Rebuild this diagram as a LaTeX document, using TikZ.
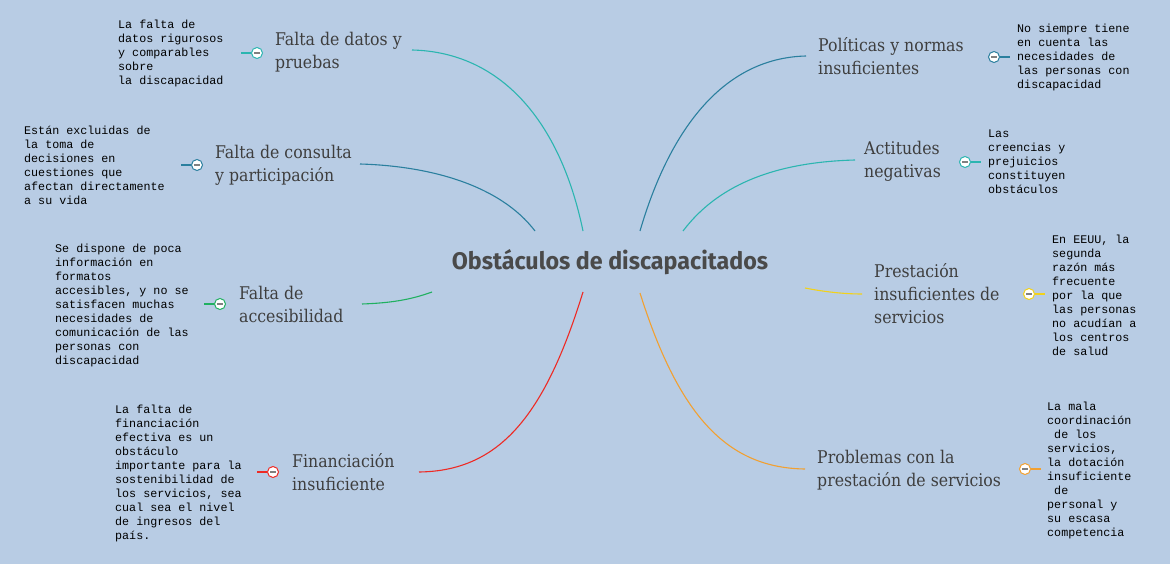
\documentclass[tikz,border=0pt]{standalone}
\usepackage{fontspec}
\newfontfamily\topicfont{DejaVu Serif Condensed}
\newfontfamily\titlefont{Fira Sans}[FakeStretch=0.97]
\newfontfamily\notefont{Liberation Mono}
\definecolor{bgblue}{HTML}{B8CCE4}
\definecolor{topicgray}{HTML}{3E3E3E}
\definecolor{titlegray}{HTML}{4A4A4A}
\definecolor{tealc}{HTML}{2BB5B0}
\definecolor{bluec}{HTML}{2A7F9E}
\definecolor{greenc}{HTML}{20B060}
\definecolor{redc}{HTML}{EE2A24}
\definecolor{yellowc}{HTML}{F2D21A}
\definecolor{orangec}{HTML}{F2A030}

\begin{document}
\begin{tikzpicture}[x=1pt,y=-1pt,
    topic/.style={anchor=west, align=left, inner sep=0pt, text=topicgray,
      font=\topicfont\fontsize{17.5}{23}\selectfont},
    note/.style={anchor=west, align=left, inner sep=0pt, text=black,
      font=\notefont\fontsize{11.7}{14}\selectfont},
    knob/.style={circle, draw=#1, fill=white, line width=1pt, minimum size=11pt, inner sep=0pt,
      path picture={\draw[gray, line width=1.2pt]
        ([xshift=-2.6pt]path picture bounding box.center) -- ([xshift=2.6pt]path picture bounding box.center);}},
    branch/.style={draw=#1, line width=1.1pt}]
  % background and frame
  \fill[bgblue] (0,0) rectangle (1170,564);
  \useasboundingbox (0,0) rectangle (1170,564);

  \node[text=titlegray, font=\titlefont\bfseries\fontsize{24}{28}\selectfont] (title) at (610,262) {Obstáculos de discapacitados};

  % start points round the title
  \coordinate (t1) at (583,231);
  \coordinate (t2) at (535,231);
  \coordinate (t3) at (432,292);
  \coordinate (t4) at (583,292);
  \coordinate (t5) at (640,231);
  \coordinate (t6) at (683,231);
  \coordinate (t7) at (805,288);
  \coordinate (t8) at (640,293);

  % left side
  \node[topic] (datos) at (275,52) {Falta de datos y\\pruebas};
  \node[topic] (consulta) at (215,165) {Falta de consulta\\y participación};
  \node[topic] (acceso) at (239,304) {Falta de\\accesibilidad};
  \node[topic] (finan) at (292,472) {Financiación\\insuficiente};
  % right side
  \node[topic] (politicas) at (818,56) {Políticas y normas\\insuficientes};
  \node[topic] (actitudes) at (864,161) {Actitudes\\negativas};
  \node[topic] (prestacion) at (874,294) {Prestación\\insuficientes de\\servicios};
  \node[topic] (problemas) at (817,470) {Problemas con la\\prestación de servicios};

  \coordinate (e1) at (412,50);
  \coordinate (e2) at (360,164);
  \coordinate (e3) at (362,304);
  \coordinate (e4) at (419,472);
  \coordinate (e5) at (806,56);
  \coordinate (e6) at (855,160);
  \coordinate (e7) at (862,294);
  \coordinate (e8) at (805,469);

  \draw[branch=tealc] (t1) .. controls (560,120) and (500,52) .. (e1);
  \draw[branch=bluec] (t2) .. controls (500,185) and (430,166) .. (e2);
  \draw[branch=greenc] (t3) .. controls (410,300) and (390,303) .. (e3);
  \draw[branch=redc] (t4) .. controls (545,415) and (500,471) .. (e4);
  \draw[branch=bluec] (t5) .. controls (668,135) and (720,58) .. (e5);
  \draw[branch=tealc] (t6) .. controls (720,182) and (780,162) .. (e6);
  \draw[branch=yellowc] (t7) .. controls (825,292) and (845,294) .. (e7);
  \draw[branch=orangec] (t8) .. controls (680,420) and (730,468) .. (e8);

  % collapse knobs
  \node[knob=tealc] (k1) at (257,53) {};
  \node[knob=bluec] (k2) at (197,165) {};
  \node[knob=greenc] (k3) at (220,304) {};
  \node[knob=redc] (k4) at (273,472) {};
  \node[knob=bluec] (k5) at (994,57) {};
  \node[knob=tealc] (k6) at (965,162) {};
  \node[knob=yellowc] (k7) at (1029,294) {};
  \node[knob=orangec] (k8) at (1025,469) {};
  \draw[branch=tealc] (k1.west) -- ++(-10,0);
  \draw[branch=bluec] (k2.west) -- ++(-10,0);
  \draw[branch=greenc] (k3.west) -- ++(-10,0);
  \draw[branch=redc] (k4.west) -- ++(-10,0);
  \draw[branch=bluec] (k5.east) -- ++(10,0);
  \draw[branch=tealc] (k6.east) -- ++(10,0);
  \draw[branch=yellowc] (k7.east) -- ++(10,0);
  \draw[branch=orangec] (k8.east) -- ++(10,0);

  % notes
  \node[note] (n1) at (118,53) {La falta de\\datos rigurosos\\y comparables\\sobre\\la discapacidad};
  \node[note] (n2) at (24,165) {Están excluidas de\\la toma de\\decisiones en\\cuestiones que\\afectan directamente\\a su vida};
  \node[note] (n3) at (55,305) {Se dispone de poca\\información en\\formatos\\accesibles, y no se\\satisfacen muchas\\necesidades de\\comunicación de las\\personas con\\discapacidad};
  \node[note] (n4) at (115,473) {La falta de\\financiación\\efectiva es un\\obstáculo\\importante para la\\sostenibilidad de\\los servicios, sea\\cual sea el nivel\\de ingresos del\\país.};
  \node[note] (n5) at (1017,57) {No siempre tiene\\en cuenta las\\necesidades de\\las personas con\\discapacidad};
  \node[note] (n6) at (988,162) {Las\\creencias y\\prejuicios\\constituyen\\obstáculos};
  \node[note] (n7) at (1052,295) {En EEUU, la\\segunda\\razón más\\frecuente\\por la que\\las personas\\no acudían a\\los centros\\de salud};
  \node[note] (n8) at (1047,470) {La mala\\coordinación\\\mbox{}\ de los\\servicios,\\la dotación\\insuficiente\\\mbox{}\ de\\personal y\\su escasa\\competencia};
\end{tikzpicture}
\end{document}
